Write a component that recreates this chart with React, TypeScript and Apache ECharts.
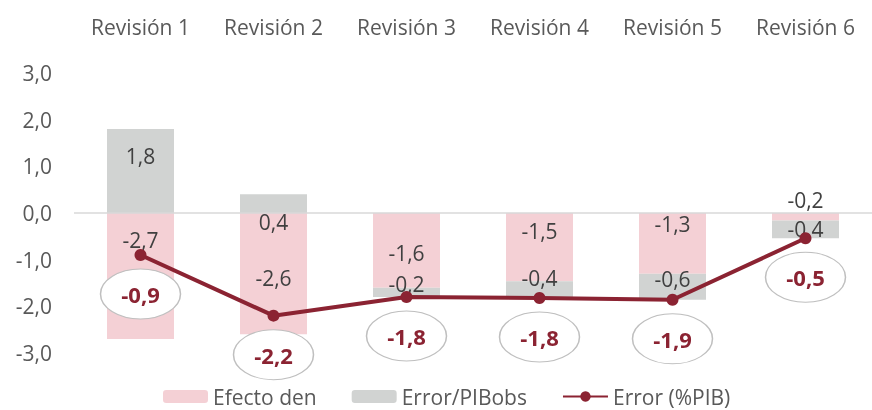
import React, { useEffect, useRef } from "react";
import * as echarts from "echarts";

const categories = ["Revisión 1", "Revisión 2", "Revisión 3", "Revisión 4", "Revisión 5", "Revisión 6"];
const efectoDen = [-2.7, -2.6, -1.6, -1.46, -1.3, -0.16];
const errorPIBobs = [1.8, 0.4, -0.2, -0.36, -0.56, -0.38];
const errorPIB = [-0.9, -2.2, -1.8, -1.82, -1.86, -0.54];
const yTicks = { min: -3, max: 3, interval: 1 };

// label vertical nudges (pixels), matching the hand-placed labels of the original
const pinkLabelDy = [-36, 4, 3, -16, -19, -17];
const grayLabelDy = [-15, 18, -8, -12, -8, 0];

const FONT = "Open Sans";
const fmt = (v: number) => v.toFixed(1).replace(".", ",");

export default function App() {
  const ref = useRef<HTMLDivElement>(null);
  useEffect(() => {
    if (!ref.current) return;
    const chart = echarts.init(ref.current, null, { renderer: "svg" });
    const labelBase = { show: true, position: "inside", color: "#404040", fontSize: 21, fontFamily: FONT, formatter: (p: any) => fmt(p.value) };
    chart.setOption({
      animation: false,
      textStyle: { fontFamily: FONT },
      grid: { left: 74, width: 810, top: 73, height: 280 },
      legend: {
        left: 163,
        top: 386,
        padding: 0,
        itemWidth: 45,
        itemHeight: 13,
        itemGap: 35,
        data: ["Efecto den", "Error/PIBobs", "Error (%PIB)"],
        textStyle: { color: "#595959", fontSize: 21, lineHeight: 21, fontFamily: FONT },
      },
      xAxis: {
        type: "category",
        position: "top",
        data: categories,
        axisLine: { show: false, onZero: false },
        axisTick: { show: false },
        axisLabel: { color: "#595959", fontSize: 21, fontFamily: FONT, margin: 36 },
      },
      yAxis: {
        type: "value",
        min: yTicks.min,
        max: yTicks.max,
        interval: yTicks.interval,
        splitLine: { show: false },
        axisLine: { show: false },
        axisTick: { show: false },
        axisLabel: { color: "#595959", fontSize: 21, fontFamily: FONT, margin: 22, formatter: (v: number) => fmt(v) },
      },
      series: [
        {
          name: "Efecto den",
          type: "bar",
          stack: "s",
          barWidth: 67,
          itemStyle: { color: "#F4D0D5" },
          data: efectoDen.map((v, i) => ({ value: v, label: { offset: [0, pinkLabelDy[i]] } })),
          label: labelBase,
          markLine: {
            silent: true,
            symbol: ["none", "none"],
            label: { show: false },
            lineStyle: { color: "#D9D9D9", type: "solid", width: 1.5 },
            data: [{ yAxis: 0 }],
          },
        },
        {
          name: "Error/PIBobs",
          type: "bar",
          stack: "s",
          barWidth: 67,
          itemStyle: { color: "#D1D3D2" },
          data: errorPIBobs.map((v, i) => ({ value: v, label: { offset: [0, grayLabelDy[i]] } })),
          label: labelBase,
        },
        {
          name: "Error (%PIB)",
          type: "line",
          data: errorPIB,
          symbol: "circle",
          symbolSize: 12,
          z: 5,
          lineStyle: { color: "#8B2332", width: 4 },
          itemStyle: { color: "#8B2332" },
        },
        {
          name: "labels",
          type: "scatter",
          data: errorPIB,
          symbol: "path://M0,25 A40,25 0 1,1 80,25 A40,25 0 1,1 0,25 Z",
          symbolSize: [80, 50],
          symbolOffset: [0, 39],
          z: 6,
          silent: true,
          itemStyle: { color: "#FFFFFF", opacity: 1, borderColor: "#BFBFBF", borderWidth: 1.2 },
          label: {
            show: true,
            position: "inside",
            color: "#8B2332",
            fontWeight: "bold",
            fontSize: 22,
            fontFamily: FONT,
            formatter: (p: any) => fmt(p.value),
          },
        },
      ],
    });
    return () => chart.dispose();
  }, []);
  return <div ref={ref} style={{ position: "fixed", left: 0, top: 0, width: 872, height: 410 }} />;
}
